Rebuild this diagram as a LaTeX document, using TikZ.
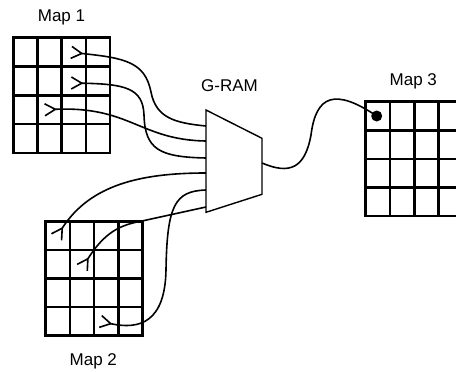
\documentclass[tikz,border=0pt]{standalone}
\usepackage{fontspec}
\setmainfont{Liberation Sans}
\usetikzlibrary{arrows.meta}
\tikzset{
  gridline/.style={line width=2.5pt, line cap=rect},
  wire/.style={line width=1.6pt},
  tap/.style={wire, {Straight Barb[reversed,length=10.5pt,width=12pt]}-},
  lbl/.style={font=\fontsize{17}{20}\selectfont, anchor=base, inner sep=0pt},
  ram/.style={line width=1.4pt, line join=miter},
  pics/mapgrid/.style args={#1/#2}{code={
    \foreach \k in {0,...,4} {
      \draw[gridline] (\k*#1,0) -- (\k*#1,4*#2);
      \draw[gridline] (0,\k*#2) -- (4*#1,\k*#2);
    }
  }}
}
\begin{document}
\begin{tikzpicture}[x=1pt,y=-1pt]
\useasboundingbox (0,0) rectangle (456,372);
% labels
\node[lbl] (m1) at (61.5,21.7) {Map 1};
\node[lbl] (gram) at (229.5,91.7) {G-RAM};
\node[lbl] (m3) at (413.3,85) {Map 3};
\node[lbl] (m2) at (93.3,365) {Map 2};
% grids
\pic at (13.3,37.7) {mapgrid={24.2/28.8}};
\pic at (45.7,221.7) {mapgrid={24.2/28.4}};
\pic at (365.7,101.7) {mapgrid={24.3/28.6}};
% G-RAM
\coordinate (g1) at (206,110);
\coordinate (g2) at (262,138.3);
\coordinate (g3) at (262,194.3);
\coordinate (g4) at (206,212.3);
\draw[ram] (g1) -- (g2) -- (g3) -- (g4) -- cycle;
\coordinate (p1) at (206,126);
\coordinate (p2) at (206,141);
\coordinate (p3) at (206,158);
\coordinate (p4) at (206,173);
\coordinate (p5) at (206,190);
\coordinate (p6) at (206,207);
\coordinate (out) at (262,163);
% sources
\coordinate (a1) at (70.5,52.3);
\coordinate (a2) at (70.5,83);
\coordinate (a3) at (44,109.8);
\coordinate (b1) at (56.1,237.7);
\coordinate (b2) at (81.8,268.3);
\coordinate (b3) at (99.7,321.3);
% wires
\draw[tap] (a1) .. controls (125,58) and (145,62) .. (151,92) .. controls (156,118) and (175,123) .. (p1);
\draw[tap] (a2) .. controls (125,84) and (143,88) .. (144,115) .. controls (145,150) and (160,157) .. (p3);
\draw[tap] (a3) .. controls (130,106) and (140,140) .. (p2);
\draw[tap] (b1) .. controls (90,185) and (140,173) .. (p4);
\draw[tap] (b2) .. controls (105,232) and (120,225) .. (142,221) -- (p6);
\draw[tap] (b3) .. controls (140,330) and (165,322) .. (166,270) .. controls (167,205) and (175,191) .. (p5);
\node[circle, fill, inner sep=0pt, minimum size=11pt] (dot) at (376.7,116) {};
\draw[wire] (out) .. controls (290,175) and (305,168) .. (311,135) .. controls (316,95) and (335,88) .. (dot.center);
\end{tikzpicture}
\end{document}
